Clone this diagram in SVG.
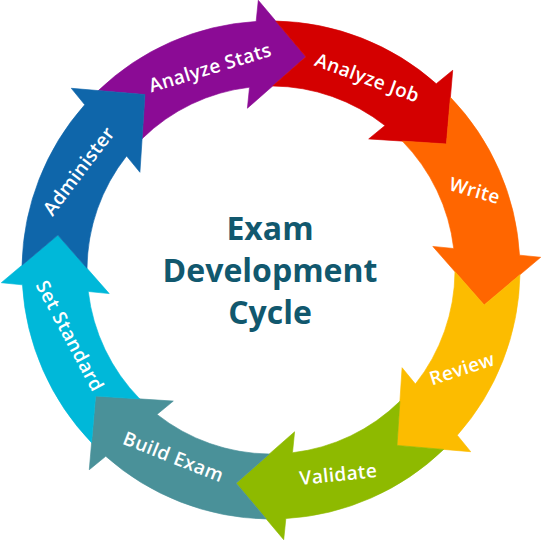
<svg xmlns="http://www.w3.org/2000/svg" xmlns:xlink="http://www.w3.org/1999/xlink" width="542" height="541" viewBox="0 0 542 541">
  <style>
    .lbl { font-family: "Open Sans", "Noto Sans", "Liberation Sans", sans-serif; font-weight: 600; font-size: 19px; letter-spacing: 0.4px; fill: #ffffff; text-anchor: middle; }
    .ttl { font-family: "Open Sans", "Noto Sans", "Liberation Sans", sans-serif; font-weight: 700; font-size: 32px; fill: #11586E; text-anchor: middle; }
    .arr { stroke-width: 0.6; stroke-linejoin: miter; }
  </style>
  <defs>
    <path id="arrow" d="M 466.14 115.33 A 249 249 0 0 1 519.84 279.04 L 540.68 283.19 L 479.83 325.18 L 434.30 262.01 L 454.96 266.12 A 184 184 0 0 0 414.06 154.28 L 457.68 161.35 Z"/>
  </defs>
  <rect width="542" height="541" fill="#ffffff"/>

  <g id="analyze-stats">
    <use xlink:href="#arrow" href="#arrow" class="arr" fill="#8B0B95" stroke="#8B0B95" transform="rotate(-95.5 271 270)"/>
    <text class="lbl" transform="translate(212 74) rotate(-17)">Analyze Stats</text>
  </g>
  <g id="analyze-job">
    <use xlink:href="#arrow" href="#arrow" class="arr" fill="#D40000" stroke="#D40000" transform="rotate(-50.5 271 270)"/>
    <text class="lbl" transform="translate(365 84) rotate(20)">Analyze Job</text>
  </g>
  <g id="write">
    <use xlink:href="#arrow" href="#arrow" class="arr" fill="#FF6600" stroke="#FF6600" transform="rotate(-5.5 271 270)"/>
    <text class="lbl" transform="translate(473 197) rotate(16)">Write</text>
  </g>
  <g id="review">
    <use xlink:href="#arrow" href="#arrow" class="arr" fill="#FCBC00" stroke="#FCBC00" transform="rotate(39.5 271 270)"/>
    <text class="lbl" transform="translate(464 375) rotate(-18)">Review</text>
  </g>
  <g id="validate">
    <use xlink:href="#arrow" href="#arrow" class="arr" fill="#8EBA00" stroke="#8EBA00" transform="rotate(84.5 271 270)"/>
    <text class="lbl" transform="translate(339 481) rotate(-6)">Validate</text>
  </g>
  <g id="build-exam">
    <use xlink:href="#arrow" href="#arrow" class="arr" fill="#4A9199" stroke="#4A9199" transform="rotate(129.5 271 270)"/>
    <text class="lbl" transform="translate(171 463) rotate(21.5)">Build Exam</text>
  </g>
  <g id="set-standard">
    <use xlink:href="#arrow" href="#arrow" class="arr" fill="#00B8D9" stroke="#00B8D9" transform="rotate(174.5 271 270)"/>
    <text class="lbl" transform="translate(64 339) rotate(62)">Set Standard</text>
  </g>
  <g id="administer">
    <use xlink:href="#arrow" href="#arrow" class="arr" fill="#0F66AA" stroke="#0F66AA" transform="rotate(219.5 271 270)"/>
    <text class="lbl" transform="translate(84 175) rotate(-53)">Administer</text>
  </g>

  <g id="title">
    <text class="ttl" x="270" y="240">Exam</text>
    <text class="ttl" x="270" y="282">Development</text>
    <text class="ttl" x="270" y="324">Cycle</text>
  </g>
</svg>
